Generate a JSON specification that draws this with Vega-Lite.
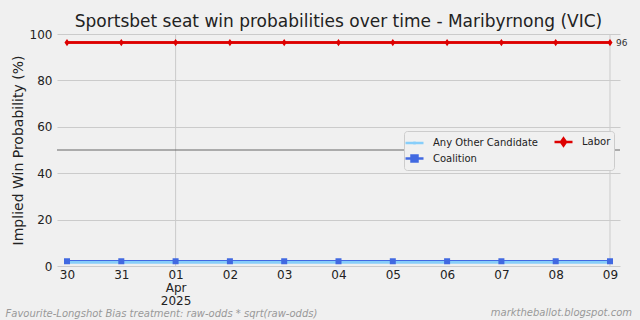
{
  "$schema": "https://vega.github.io/schema/vega-lite/v6.json",
  "autosize": "none",
  "width": 563,
  "height": 232,
  "padding": {"left": 57, "top": 34, "right": 20, "bottom": 54},
  "background": "#f0f0f0",
  "view": {"stroke": null, "fill": "#f0f0f0"},
  "config": {
    "font": "DejaVu Sans",
    "axis": {"labelFont": "DejaVu Sans", "titleFont": "DejaVu Sans", "domain": false, "ticks": false, "labelColor": "#222", "labelFontSize": 12},
    "legend": {"labelFont": "DejaVu Sans"}
  },
  "title": {
    "text": "Sportsbet seat win probabilities over time - Maribyrnong (VIC)",
    "fontSize": 17,
    "fontWeight": "normal",
    "font": "DejaVu Sans",
    "color": "#222",
    "anchor": "middle",
    "offset": -3
  },
  "datasets": {
    "probs": [
      {"date": "2025-03-30", "party": "Labor", "prob": 96.3},
      {"date": "2025-03-31", "party": "Labor", "prob": 96.3},
      {"date": "2025-04-01", "party": "Labor", "prob": 96.3},
      {"date": "2025-04-02", "party": "Labor", "prob": 96.3},
      {"date": "2025-04-03", "party": "Labor", "prob": 96.3},
      {"date": "2025-04-04", "party": "Labor", "prob": 96.3},
      {"date": "2025-04-05", "party": "Labor", "prob": 96.3},
      {"date": "2025-04-06", "party": "Labor", "prob": 96.3},
      {"date": "2025-04-07", "party": "Labor", "prob": 96.3},
      {"date": "2025-04-08", "party": "Labor", "prob": 96.3},
      {"date": "2025-04-09", "party": "Labor", "prob": 96.3},
      {"date": "2025-03-30", "party": "Coalition", "prob": 2.1},
      {"date": "2025-03-31", "party": "Coalition", "prob": 2.1},
      {"date": "2025-04-01", "party": "Coalition", "prob": 2.1},
      {"date": "2025-04-02", "party": "Coalition", "prob": 2.1},
      {"date": "2025-04-03", "party": "Coalition", "prob": 2.1},
      {"date": "2025-04-04", "party": "Coalition", "prob": 2.1},
      {"date": "2025-04-05", "party": "Coalition", "prob": 2.1},
      {"date": "2025-04-06", "party": "Coalition", "prob": 2.1},
      {"date": "2025-04-07", "party": "Coalition", "prob": 2.1},
      {"date": "2025-04-08", "party": "Coalition", "prob": 2.1},
      {"date": "2025-04-09", "party": "Coalition", "prob": 2.1},
      {"date": "2025-03-30", "party": "Any Other Candidate", "prob": 1.6},
      {"date": "2025-03-31", "party": "Any Other Candidate", "prob": 1.6},
      {"date": "2025-04-01", "party": "Any Other Candidate", "prob": 1.6},
      {"date": "2025-04-02", "party": "Any Other Candidate", "prob": 1.6},
      {"date": "2025-04-03", "party": "Any Other Candidate", "prob": 1.6},
      {"date": "2025-04-04", "party": "Any Other Candidate", "prob": 1.6},
      {"date": "2025-04-05", "party": "Any Other Candidate", "prob": 1.6},
      {"date": "2025-04-06", "party": "Any Other Candidate", "prob": 1.6},
      {"date": "2025-04-07", "party": "Any Other Candidate", "prob": 1.6},
      {"date": "2025-04-08", "party": "Any Other Candidate", "prob": 1.6},
      {"date": "2025-04-09", "party": "Any Other Candidate", "prob": 1.6}
    ],
    "vlines": [{"date": "2025-04-01"}, {"date": "2025-04-09"}],
    "hline": [{"level": 50}],
    "note": [{"text": "marktheballot.blogspot.com"}]
  },
  "layer": [
    {
      "data": {"name": "probs"},
      "mark": {"type": "line", "strokeWidth": 2.5},
      "encoding": {
        "x": {
          "field": "date", "type": "temporal",
          "scale": {"type": "utc", "padding": 10},
          "axis": {
            "values": [
              {"year": 2025, "month": 3, "date": 30, "utc": true},
              {"year": 2025, "month": 3, "date": 31, "utc": true},
              {"year": 2025, "month": 4, "date": 1, "utc": true},
              {"year": 2025, "month": 4, "date": 2, "utc": true},
              {"year": 2025, "month": 4, "date": 3, "utc": true},
              {"year": 2025, "month": 4, "date": 4, "utc": true},
              {"year": 2025, "month": 4, "date": 5, "utc": true},
              {"year": 2025, "month": 4, "date": 6, "utc": true},
              {"year": 2025, "month": 4, "date": 7, "utc": true},
              {"year": 2025, "month": 4, "date": 8, "utc": true},
              {"year": 2025, "month": 4, "date": 9, "utc": true}
            ],
            "labelExpr": "utcFormat(datum.value, '%d') == '01' ? ['01', 'Apr', '2025'] : utcFormat(datum.value, '%d')",
            "labelPadding": 3,
            "labelBaseline": "top",
            "labelLineHeight": 13,
            "grid": false,
            "title": "Favourite-Longshot Bias treatment: raw-odds * sqrt(raw-odds)",
            "titleFontSize": 10,
            "titleFontStyle": "italic",
            "titleFontWeight": "normal",
            "titleColor": "#999999",
            "titleAnchor": "start",
            "titleAlign": "left",
            "titleBaseline": "bottom",
            "titleX": -52,
            "titleY": 52
          }
        },
        "y": {
          "field": "prob", "type": "quantitative",
          "scale": {"domain": [0, 100]},
          "axis": {
            "values": [0, 20, 40, 60, 80, 100],
            "grid": true,
            "gridColor": "#cbcbcb",
            "gridWidth": 1,
            "labelPadding": 5,
            "title": "Implied Win Probability (%)",
            "titleFontSize": 14,
            "titleFontWeight": "normal",
            "titleColor": "#222",
            "titlePadding": 4
          }
        },
        "color": {
          "field": "party", "type": "nominal",
          "scale": {"domain": ["Any Other Candidate", "Coalition", "Labor"], "range": ["#87cefa", "#4169e1", "#dd0000"]},
          "legend": {
            "title": null,
            "orient": "none",
            "legendX": 347,
            "legendY": 97,
            "columns": 2,
            "columnPadding": 11,
            "rowPadding": -5,
            "fillColor": "#f0f0f0",
            "strokeColor": "#cccccc",
            "cornerRadius": 3,
            "padding": 3,
            "labelFontSize": 10,
            "labelColor": "#222",
            "symbolSize": 144,
            "symbolStrokeWidth": 2.5,
            "labelOffset": 11
          }
        }
      }
    },
    {
      "data": {"name": "vlines"},
      "mark": {"type": "rule", "color": "#cbcbcb", "strokeWidth": 1},
      "encoding": {
        "x": {"field": "date", "type": "temporal"}
      }
    },
    {
      "data": {"name": "hline"},
      "mark": {"type": "rule", "color": "#666666", "strokeWidth": 1},
      "encoding": {
        "y": {"field": "level", "type": "quantitative"}
      }
    },
    {
      "data": {"name": "probs"},
      "mark": {"type": "line", "strokeWidth": 2.5},
      "encoding": {
        "x": {"field": "date", "type": "temporal"},
        "y": {"field": "prob", "type": "quantitative"},
        "color": {"field": "party", "type": "nominal"}
      }
    },
    {
      "data": {"name": "probs"},
      "mark": {"type": "point", "filled": true, "size": 144, "opacity": 1, "strokeWidth": 0},
      "encoding": {
        "x": {"field": "date", "type": "temporal"},
        "y": {"field": "prob", "type": "quantitative"},
        "color": {"field": "party", "type": "nominal"},
        "shape": {"field": "party", "type": "nominal",
          "scale": {"domain": ["Any Other Candidate", "Coalition", "Labor"],
            "range": ["M-1.5,0L1.5,0M0,-0.25L0,0.25", "M-1.5,0L1.5,0M-0.5,-0.5L0.5,-0.5L0.5,0.5L-0.5,0.5Z", "M-1.5,0L1.5,0M0,-0.6L0.42,0L0,0.6L-0.42,0Z"]}}
      }
    },
    {
      "data": {"name": "probs"},
      "transform": [{"filter": "datum.party == 'Labor' && time(datum.date) == time('2025-04-09')"}],
      "mark": {"type": "text", "align": "left", "baseline": "middle", "dx": 6, "fontSize": 9, "color": "#333"},
      "encoding": {
        "x": {"field": "date", "type": "temporal"},
        "y": {"field": "prob", "type": "quantitative"},
        "text": {"field": "prob", "type": "quantitative", "format": ".0f"}
      }
    },
    {
      "data": {"name": "note"},
      "mark": {"type": "text", "align": "right", "baseline": "bottom", "dx": 12, "dy": 52, "fontSize": 10, "fontStyle": "italic", "color": "#999999"},
      "encoding": {
        "x": {"value": "width"},
        "y": {"value": "height"},
        "text": {"field": "text", "type": "nominal"}
      }
    }
  ]
}
